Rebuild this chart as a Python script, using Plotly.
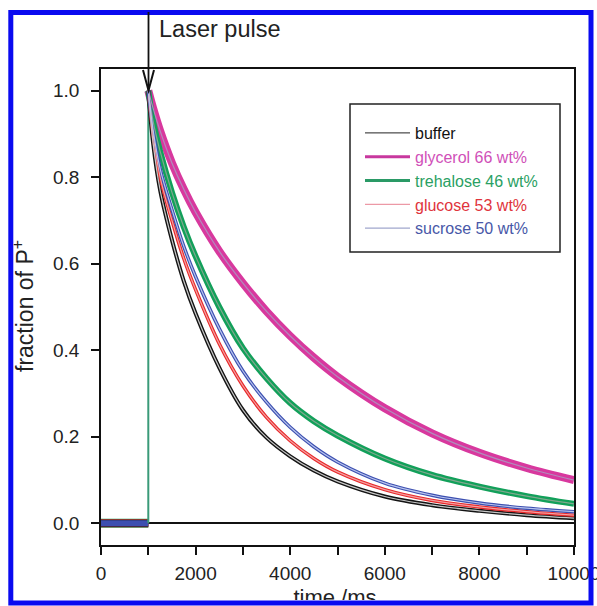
import plotly.graph_objects as go

# ---------------- data ----------------
pulse_time = 1000
pre_time = [0, 1000]
pre_value = [0.0, 0.0]

time_ms = [1000, 1100, 1250, 1500, 1750, 2000, 2500, 3000, 3500, 4000,
           4500, 5000, 6000, 7000, 8000, 9000, 10000]
buffer = [1.0, 0.88, 0.77, 0.655, 0.56, 0.485, 0.36, 0.262, 0.198, 0.155,
          0.122, 0.097, 0.062, 0.042, 0.029, 0.019, 0.012]
glycerol = [1.0, 0.96, 0.907, 0.833, 0.772, 0.719, 0.629, 0.555, 0.49, 0.433,
            0.383, 0.339, 0.266, 0.208, 0.163, 0.128, 0.10]
trehalose = [1.0, 0.93, 0.86, 0.765, 0.685, 0.617, 0.50, 0.405, 0.335, 0.278,
             0.236, 0.203, 0.150, 0.112, 0.085, 0.063, 0.045]
glucose = [1.0, 0.90, 0.80, 0.70, 0.612, 0.54, 0.415, 0.318, 0.245, 0.191,
           0.150, 0.119, 0.078, 0.053, 0.038, 0.027, 0.019]
sucrose = [1.0, 0.91, 0.82, 0.725, 0.64, 0.57, 0.45, 0.352, 0.28, 0.222,
           0.177, 0.142, 0.093, 0.065, 0.047, 0.035, 0.027]

series_names = ["buffer", "glycerol 66 wt%", "trehalose 46 wt%",
                "glucose 53 wt%", "sucrose 50 wt%"]
series_values = [buffer, glycerol, trehalose, glucose, sucrose]

x_tick_vals = [0, 1000, 2000, 3000, 4000, 5000, 6000, 7000, 8000, 9000, 10000]
x_tick_text = ["0", "", "2000", "", "4000", "", "6000", "", "8000", "", "10000"]
y_tick_vals = [0.0, 0.2, 0.4, 0.6, 0.8, 1.0]
y_tick_text = ["0.0", "0.2", "0.4", "0.6", "0.8", "1.0"]

# ---------------- styles ----------------
band_colors = ["#141414", "#d8389e", "#12a05a", "#e8282a", "#3c4fb0"]
fit_colors = ["#c8c8c8", "#b08cbc", "#7fa88e", "#f4a0a0", "#b8c4ee"]
band_widths = [4, 8, 6, 3.5, 3.5]
base_widths = [7, 6, 9, 8, 6]
legend_colors = ["#222222", "#c8389e", "#2a9a66", "#e88090", "#8890c0"]
legend_widths = [1, 3, 3, 1, 1]
text_colors = ["#111111", "#d050b8", "#2aa063", "#e0343c", "#4858a8"]
draw_order = [1, 2, 0, 3, 4]
base_order = [2, 3, 1, 0, 4]

W, H = 597, 606
PLOT_L, PLOT_R, PLOT_T, PLOT_B = 101, 574, 69, 545
FONT = "Liberation Sans, Arial, sans-serif"
FRAME = "#0a0af0"


def px(x):
    return x / W


def py(y):
    return (H - y) / H


fig = go.Figure()

# baseline before the pulse
for i in base_order:
    fig.add_trace(go.Scatter(x=pre_time, y=pre_value, mode="lines",
                             line=dict(color=band_colors[i], width=base_widths[i]),
                             showlegend=False, hoverinfo="skip"))

# jump at the laser pulse
fig.add_trace(go.Scatter(x=[pulse_time, pulse_time],
                         y=[pre_value[-1], glycerol[0]], mode="lines",
                         line=dict(color="#3a9a78", width=2),
                         showlegend=False, hoverinfo="skip"))

# noisy data bands
for i in draw_order:
    fig.add_trace(go.Scatter(x=time_ms, y=series_values[i], mode="lines",
                             line=dict(color=band_colors[i], width=band_widths[i],
                                       shape="spline", smoothing=1.0),
                             showlegend=False, hoverinfo="skip"))
# fitted curves
for i in draw_order:
    fig.add_trace(go.Scatter(x=time_ms, y=series_values[i], mode="lines",
                             line=dict(color=fit_colors[i], width=1.2,
                                       shape="spline", smoothing=1.0),
                             showlegend=False, hoverinfo="skip"))

# legend entries
for i, name in enumerate(series_names):
    fig.add_trace(go.Scatter(x=[None], y=[None], mode="lines",
                             line=dict(color=legend_colors[i], width=legend_widths[i]),
                             name="<span style='color:%s'>%s</span>" % (text_colors[i], name)))

# x-axis title, cut off by the frame (lives in a hidden strip subplot that clips it)
fig.add_trace(go.Scatter(x=[335], y=[H - 599], xaxis="x2", yaxis="y2",
                         mode="text", text=["time /ms"],
                         textfont=dict(family=FONT, size=22, color="#222"),
                         textposition="middle center", cliponaxis=True,
                         showlegend=False, hoverinfo="skip"))

shapes = [
    # outer blue frame
    dict(type="rect", xref="paper", yref="paper",
         x0=px(10.8), x1=px(591), y0=py(603), y1=py(12.5),
         line=dict(color=FRAME, width=5), layer="above"),
    # legend box
    dict(type="rect", xref="paper", yref="paper",
         x0=px(350), x1=px(560), y0=py(252), y1=py(104),
         line=dict(color="#222", width=1.5), layer="above"),
    # laser pulse arrow
    dict(type="line", xref="paper", yref="paper",
         x0=px(148.5), x1=px(148.5), y0=py(90), y1=py(12),
         line=dict(color="#111", width=1.8), layer="above"),
    dict(type="path", xref="paper", yref="paper",
         path="M %f,%f L %f,%f L %f,%f" % (px(143), py(70), px(148.5), py(90.5), px(154), py(70)),
         line=dict(color="#111", width=2), layer="above"),
]

annotations = [
    dict(text="Laser pulse", xref="paper", yref="paper", x=px(157), y=py(29),
         xanchor="left", yanchor="middle", showarrow=False,
         font=dict(family=FONT, size=23.5, color="#222")),
    dict(text="fraction of P<sup>+</sup>", xref="paper", yref="paper",
         x=px(23), y=py(306), xanchor="center", yanchor="middle",
         textangle=-90, showarrow=False,
         font=dict(family=FONT, size=23, color="#222")),
]

fig.update_layout(
    width=W, height=H, autosize=False,
    margin=dict(l=0, r=0, t=0, b=0, pad=0, autoexpand=False),
    paper_bgcolor="white", plot_bgcolor="white",
    font=dict(family=FONT, color="#222"),
    shapes=shapes, annotations=annotations,
    showlegend=True,
    legend=dict(x=px(360), y=py(116), xanchor="left", yanchor="top",
                bgcolor="rgba(0,0,0,0)", borderwidth=0,
                font=dict(family=FONT, size=16), itemwidth=45,
                tracegroupgap=0),
    xaxis=dict(domain=[px(PLOT_L), px(PLOT_R)], anchor="y", automargin=False,
               range=[0, 10000], showline=True, linecolor="#111", linewidth=2,
               mirror=True, ticks="outside", ticklen=8, tickwidth=1.5,
               tickcolor="#111", tickvals=x_tick_vals, ticktext=x_tick_text,
               showgrid=False, zeroline=False, ticklabelstandoff=2,
               ticklabeloverflow="allow",
               tickfont=dict(family=FONT, size=19, color="#222")),
    yaxis=dict(domain=[py(PLOT_B), py(PLOT_T)], anchor="x", automargin=False,
               range=[-0.05, 1.05], showline=True, linecolor="#111", linewidth=1.8,
               mirror=True, ticks="outside", ticklen=8, tickwidth=1.5,
               tickcolor="#111", tickvals=y_tick_vals, ticktext=y_tick_text,
               showgrid=False, zeroline=True, zerolinecolor="#111", zerolinewidth=2,
               ticklabelstandoff=8,
               tickfont=dict(family=FONT, size=19, color="#222")),
    xaxis2=dict(domain=[0, 1], range=[0, W], anchor="y2", visible=False,
                automargin=False),
    yaxis2=dict(domain=[py(600), py(578)], range=[H - 600, H - 578], anchor="x2",
                visible=False, automargin=False),
)

fig.write_html(
    "out.html",
    config={"responsive": False, "displayModeBar": False},
    post_script="document.documentElement.style.overflow='hidden';"
                "document.body.style.overflow='hidden';",
)
